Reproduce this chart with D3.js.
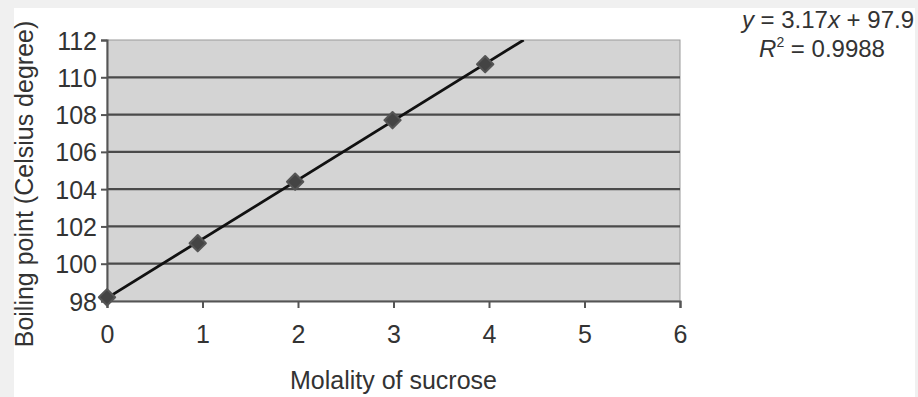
<!DOCTYPE html>
<html>
<head>
<meta charset="utf-8">
<script src="https://cdn.jsdelivr.net/npm/d3@7"></script>
<style>
  body { margin: 0; background: #f0f0f0; }
  svg { display: block; }
  text { font-family: "Liberation Sans", Arial, sans-serif; fill: #333; }
</style>
</head>
<body>
<div id="chart"></div>
<script>
const W = 918, H = 397;
const margin = {top: 40, right: 238, bottom: 96, left: 107};
const width = W - margin.left - margin.right,
      height = H - margin.top - margin.bottom;

// data
const molality = [0, 0.95, 1.97, 2.99, 3.96];
const boiling = [98.2, 101.1, 104.4, 107.7, 110.7];
const xTicks = [0, 1, 2, 3, 4, 5, 6];
const yTicks = [98, 100, 102, 104, 106, 108, 110, 112];
const eqText = {slope: "3.17", intercept: "97.9", r2: "0.9988"};

const points = molality.map((m, i) => ({x: m, y: boiling[i]}));

// least squares fit of the points for the drawn trendline
const mx = d3.mean(molality), my = d3.mean(boiling);
const sxy = d3.sum(points, d => (d.x - mx) * (d.y - my));
const sxx = d3.sum(points, d => (d.x - mx) * (d.x - mx));
const fitSlope = sxy / sxx, fitIntercept = my - fitSlope * mx;

const svg = d3.select("#chart")
  .append("svg")
    .attr("width", W)
    .attr("height", H);

// white card
svg.append("rect")
  .attr("x", 14).attr("y", 8)
  .attr("width", 901).attr("height", H - 8)
  .attr("fill", "#fff");

svg.append("clipPath").attr("id", "plotclip")
  .append("rect")
  .attr("width", width)
  .attr("height", height);

const g = svg.append("g")
  .attr("transform", "translate(" + margin.left + "," + margin.top + ")");

const xScale = d3.scaleLinear().domain([0, 6]).range([0, width]);
const yScale = d3.scaleLinear().domain([98, 112]).range([height, 0]);

// plot background
g.append("rect")
  .attr("width", width).attr("height", height)
  .attr("fill", "#d4d4d4")
  .attr("stroke", "#9a9a9a");

// gridlines
g.selectAll(".grid")
  .data(yTicks.slice(1, -1))
  .join("line")
    .attr("x1", 0).attr("x2", width)
    .attr("y1", d => yScale(d)).attr("y2", d => yScale(d))
    .attr("stroke", "#4a4a4a")
    .attr("stroke-width", 2.2);

// axes
const yAxis = g.append("g")
  .call(d3.axisLeft(yScale).tickValues(yTicks).tickSize(6).tickPadding(4).tickFormat(d3.format("d")));
const xAxis = g.append("g")
  .attr("transform", "translate(0," + height + ")")
  .call(d3.axisBottom(xScale).tickValues(xTicks).tickSize(7).tickPadding(17).tickFormat(d3.format("d")));

[xAxis, yAxis].forEach(a => {
  a.attr("font-size", 25);
  a.select(".domain").attr("stroke", "#555").attr("stroke-width", 2);
  a.selectAll(".tick line").attr("stroke", "#555").attr("stroke-width", 2);
  a.selectAll(".tick text")
    .attr("fill", "#3a3a3a")
    .style("font-family", "Liberation Sans, Arial, sans-serif");
});
yAxis.selectAll(".tick text").attr("dy", "0.36em");

// trendline, clipped to the plot
const xEnd = (112 - fitIntercept) / fitSlope;
g.append("line")
  .attr("clip-path", "url(#plotclip)")
  .attr("x1", xScale(0)).attr("y1", yScale(fitIntercept))
  .attr("x2", xScale(xEnd)).attr("y2", yScale(112))
  .attr("stroke", "#111")
  .attr("stroke-width", 2.8);

// diamond markers
g.selectAll(".pt")
  .data(points)
  .join("path")
    .attr("transform", d => "translate(" + xScale(d.x) + "," + yScale(d.y) + ")")
    .attr("d", d3.symbol().type(d3.symbolDiamond2).size(170))
    .attr("fill", "#444")
    .attr("stroke", "#555")
    .attr("stroke-width", 2)
    .attr("stroke-linejoin", "round");

// axis titles
svg.append("text")
  .attr("x", margin.left + width / 2)
  .attr("y", 389)
  .attr("text-anchor", "middle")
  .attr("font-size", 25)
  .text("Molality of sucrose");

svg.append("text")
  .attr("transform", "translate(33,184) rotate(-90)")
  .attr("text-anchor", "middle")
  .attr("font-size", 25)
  .text("Boiling point (Celsius degree)");

// regression equation
const eq = svg.append("text")
  .attr("x", 914).attr("y", 28)
  .attr("text-anchor", "end")
  .attr("font-size", 24);
eq.append("tspan").attr("font-style", "italic").text("y");
eq.append("tspan").text(" = " + eqText.slope);
eq.append("tspan").attr("font-style", "italic").text("x");
eq.append("tspan").text(" + " + eqText.intercept);

const r = svg.append("text")
  .attr("x", 822).attr("y", 57)
  .attr("text-anchor", "middle")
  .attr("font-size", 24);
r.append("tspan").attr("font-style", "italic").text("R");
r.append("tspan").attr("font-size", 14).attr("dy", -10).text("2");
r.append("tspan").attr("dy", 10).text(" = " + eqText.r2);
</script>
</body>
</html>
